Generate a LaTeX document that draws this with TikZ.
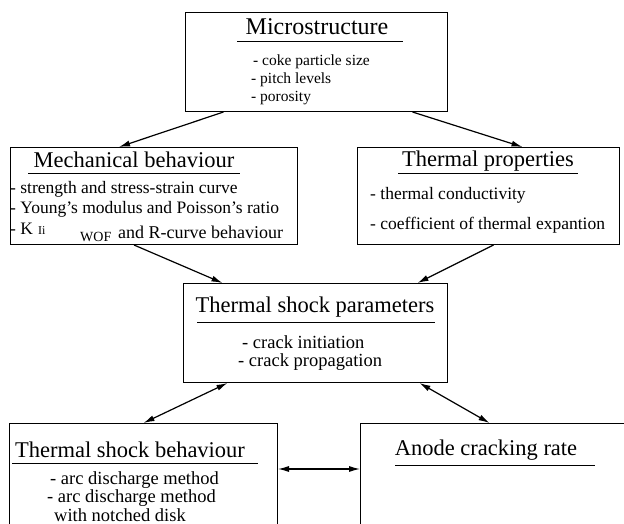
\documentclass[tikz,border=0pt]{standalone}
\usepackage{fontspec}
\setmainfont{Liberation Serif}
\usetikzlibrary{arrows.meta}
\begin{document}
\begin{tikzpicture}[x=1pt,y=-1pt,>={Latex[length=11pt,width=6pt]},
  box/.style={draw,line width=1pt,inner sep=0pt,anchor=north west},
  ttl/.style={font=\fontsize{22.5}{24}\selectfont,inner sep=0pt},
  itm/.style={font=\fontsize{17.5}{18}\selectfont,inner sep=0pt,anchor=west},
  lnk/.style={line width=1.2pt}]
\clip (0,0) rectangle (624,524);
\node[box,minimum width=262pt,minimum height=99pt] (micro) at (185,12) {};
\node[box,minimum width=287pt,minimum height=97pt] (mech) at (10,147) {};
\node[box,minimum width=262pt,minimum height=97pt] (therm) at (357,147) {};
\node[box,minimum width=264pt,minimum height=99pt] (tsp) at (183,283) {};
\node[box,minimum width=268pt,minimum height=150pt] (tsb) at (9,423) {};
\node[box,minimum width=300pt,minimum height=150pt] (acr) at (360,423) {};
\node[ttl,font=\fontsize{24}{26}\selectfont] (microT) at (317,27) {Microstructure};
\draw [line width=1pt] (237,42) -- (403,42);
\node[itm,font=\fontsize{15.5}{17}\selectfont] (micro1) at (253,62) {- coke particle size};
\node[itm,font=\fontsize{15.5}{17}\selectfont] (micro2) at (251,80) {- pitch levels};
\node[itm,font=\fontsize{15.5}{17}\selectfont] (micro3) at (251,98) {- porosity};
\node[ttl] (mechT) at (134,160) {Mechanical behaviour};
\draw [line width=1pt] (28,174) -- (240,174);
\node[itm] (mech1) at (10,189) {- strength and stress-strain curve};
\node[itm] (mech2) at (10,209) {- Young's modulus and Poisson's ratio};
\node[itm] (mech3) at (10,229) {- K};
\node[itm,font=\fontsize{12}{13}\selectfont] (mech3a) at (38,231) {Ii};
\node[itm,font=\fontsize{14}{15}\selectfont] (mech3b) at (80,237) {WOF};
\node[itm,font=\fontsize{18}{19}\selectfont] (mech3c) at (118,232) {and R-curve behaviour};
\node[ttl] (thermT) at (488,161) {Thermal properties};
\draw [line width=1pt] (398,174) -- (578,174);
\node[itm] (therm1) at (370,195) {- thermal conductivity};
\node[itm] (therm2) at (370,225) {- coefficient of thermal expantion};
\node[ttl] (tspT) at (315,307) {Thermal shock parameters};
\draw [line width=1pt] (197,322) -- (435,322);
\node[itm,font=\fontsize{18.5}{19}\selectfont] (tsp1) at (242,342) {- crack initiation};
\node[itm,font=\fontsize{18.5}{19}\selectfont] (tsp2) at (238,362) {- crack propagation};
\node[ttl] (tsbT) at (130,450) {Thermal shock behaviour};
\draw [line width=1pt] (12,463) -- (258,463);
\node[itm,font=\fontsize{18.5}{19}\selectfont] (tsb1) at (50,480) {- arc discharge method};
\node[itm,font=\fontsize{18.5}{19}\selectfont] (tsb2) at (47,498) {- arc discharge method};
\node[itm,font=\fontsize{18.5}{19}\selectfont] (tsb3) at (54,515) {with notched disk};
\node[ttl] (acrT) at (486,450) {Anode cracking rate};
\draw [line width=1pt] (395,465) -- (595,465);
\draw [lnk,->] ([xshift=-93pt]micro.south) -- ([xshift=-35pt]mech.north);
\draw [lnk,->] ([xshift=96pt]micro.south) -- ([xshift=34pt]therm.north);
\draw [lnk,->] ([xshift=-20pt]mech.south) -- ([xshift=-93pt]tsp.north);
\draw [lnk,->] ([xshift=5pt]therm.south) -- ([xshift=102pt]tsp.north);
\draw [lnk,<->] ([xshift=-88pt]tsp.south) -- (tsb.north);
\draw [lnk,<->] ([xshift=104pt]tsp.south) -- ([xshift=-21pt]acr.north);
\draw [lnk,<->] ([yshift=-46pt]tsb.north east) -- ([yshift=-46pt]acr.north west);
\end{tikzpicture}
\end{document}
